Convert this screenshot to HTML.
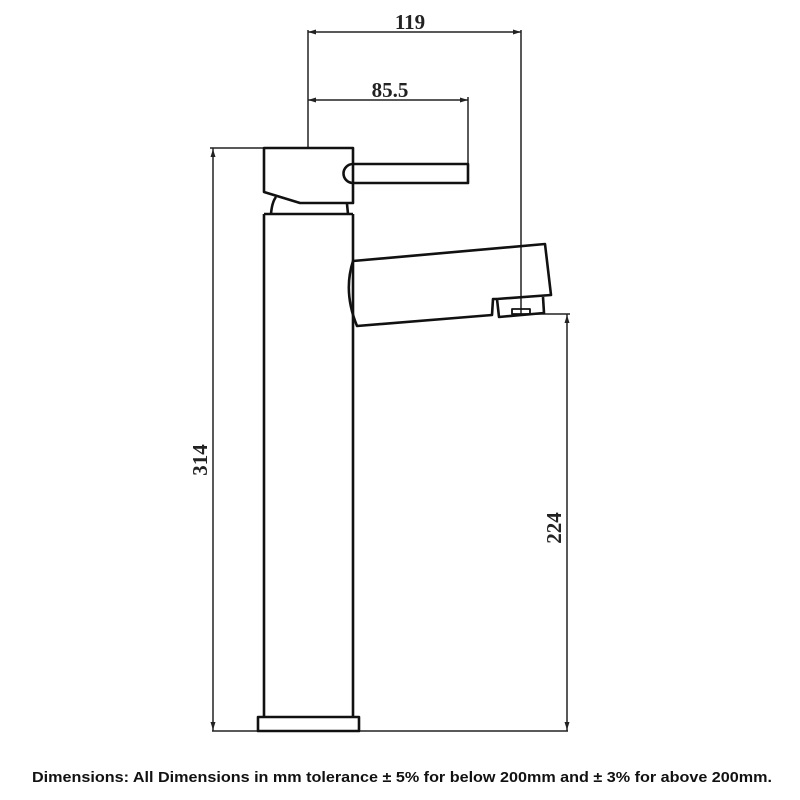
<!DOCTYPE html>
<html><head><style>html,body{margin:0;padding:0;background:#fff}svg{display:block}</style></head>
<body>
<svg width="800" height="800" viewBox="0 0 800 800" xmlns="http://www.w3.org/2000/svg">
<g fill="none" stroke="#222" stroke-width="1.5">
<line x1="308" y1="32" x2="521" y2="32"/>
<line x1="308" y1="100" x2="468" y2="100"/>
<line x1="308" y1="30" x2="308" y2="148"/>
<line x1="521" y1="30" x2="521" y2="314"/>
<line x1="468" y1="97" x2="468" y2="164"/>
<line x1="210" y1="148" x2="264" y2="148"/>
<line x1="213" y1="148" x2="213" y2="731"/>
<line x1="212" y1="731" x2="568" y2="731"/>
<line x1="530" y1="314" x2="570" y2="314"/>
<line x1="567" y1="314" x2="567" y2="731"/>
</g>
<g fill="#222">
<polygon points="308,32 316,29.5 316,34.5"/><polygon points="521,32 513,29.5 513,34.5"/>
<polygon points="308,100 316,97.5 316,102.5"/><polygon points="468,100 460,97.5 460,102.5"/>
<polygon points="213,149 210.5,157 215.5,157"/><polygon points="213,730 210.5,722 215.5,722"/>
<polygon points="567,315 564.5,323 569.5,323"/><polygon points="567,730 564.5,722 569.5,722"/>
</g>
<g fill="none" stroke="#111" stroke-width="2.6" stroke-linejoin="round">
<path d="M264,148 L353,148 L353,203 L300,203 L264,192 Z"/>
<path d="M353,164 L468,164 L468,183 L353,183 A9,9 0 0 1 353,164"/>
<path d="M271,214 Q272,202 276,197"/>
<path d="M348,214 L347,204"/>
<path d="M353,214 L353,717 M264,214 L264,717 M264,214 L353,214"/>
<rect x="258" y="717" width="101" height="14"/>
<path d="M353,261 L545,244 L551,295 L497,299 L499,317 L544,313 L543,297"/>
<path d="M353,261 Q343,292 357,326 L492,315 L493,299 L497,299"/>
<rect x="512" y="309" width="18" height="5" stroke-width="1.8"/>
</g>
<g font-family="Liberation Serif, serif" font-weight="bold" font-size="21" fill="#222" text-anchor="middle">
<text x="410" y="29">119</text>
<text x="390" y="97">85.5</text>
<text transform="translate(207,460) rotate(-90)">314</text>
<text transform="translate(561,528) rotate(-90)">224</text>
</g>
<text x="32" y="782" font-family="Liberation Sans, sans-serif" font-weight="bold" font-size="15" fill="#111" textLength="740" lengthAdjust="spacingAndGlyphs">Dimensions: All Dimensions in mm tolerance ± 5% for below 200mm and ± 3% for above 200mm.</text>
</svg>
</body></html>
